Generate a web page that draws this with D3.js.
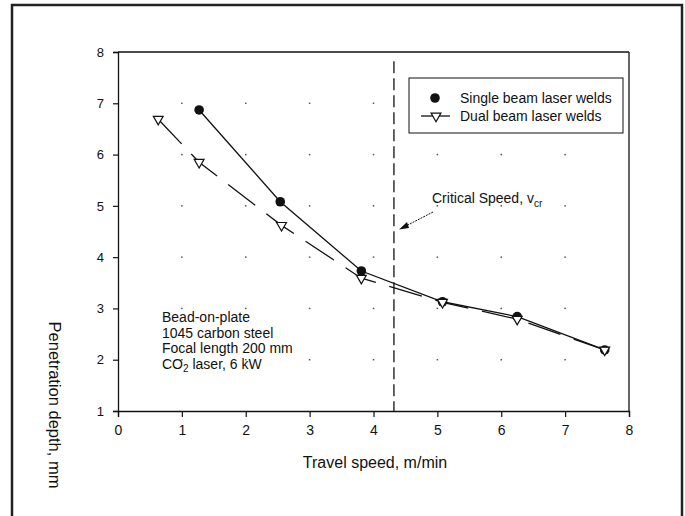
<!DOCTYPE html>
<html>
<head>
<meta charset="utf-8">
<script src="https://cdn.jsdelivr.net/npm/d3@7"></script>
<style>
  html, body { margin: 0; padding: 0; background: #fff; }
  svg { display: block; font-family: "Liberation Sans", Arial, sans-serif; }
</style>
</head>
<body>
<svg id="chart" width="685" height="516"></svg>
<script>
// ---- data ----
const singleSpeed = [1.27, 2.54, 3.81, 5.08, 6.25, 7.62];
const singleDepth = [6.87, 5.08, 3.73, 3.13, 2.84, 2.19];
const dualSpeed   = [0.63, 1.27, 2.56, 3.81, 5.08, 6.25, 7.62];
const dualDepth   = [6.69, 5.85, 4.62, 3.59, 3.12, 2.79, 2.19];
const xTicks = [0, 1, 2, 3, 4, 5, 6, 7, 8];
const yTicks = [1, 2, 3, 4, 5, 6, 7, 8];
const gridX = [1, 2, 3, 4, 5, 6, 7];
const gridY = [2, 3, 4, 5, 6, 7];
const criticalSpeed = 4.32;
const legendLabels = ["Single beam laser welds", "Dual beam laser welds"];
const noteLines = ["Bead-on-plate", "1045 carbon steel", "Focal length 200 mm"];

// ---- layout ----
const svg = d3.select("#chart");
const M = { left: 118, top: 52, right: 629, bottom: 411 };
const x = d3.scaleLinear().domain([0, 8]).range([M.left, M.right]);
const y = d3.scaleLinear().domain([1, 8]).range([M.bottom, M.top]);
const ink = "#111";

// outer frame
svg.append("rect").attr("x", 12).attr("y", 5).attr("width", 670).attr("height", 530)
  .attr("fill", "none").attr("stroke", "#222").attr("stroke-width", 2.5);

// faint grid dots
const dots = [];
gridX.forEach(gx => gridY.forEach(gy => dots.push([gx, gy])));
svg.append("g").selectAll("rect").data(dots).join("rect")
  .attr("x", d => x(d[0]) - 0.75).attr("y", d => y(d[1]) - 0.75)
  .attr("width", 1.5).attr("height", 1.5).attr("fill", "#555");

// axes
const xAxis = svg.append("g").attr("transform", `translate(0,${M.bottom})`)
  .call(d3.axisBottom(x).tickValues(xTicks).tickFormat(d3.format("d")).tickSize(6).tickPadding(8));
const yAxis = svg.append("g").attr("transform", `translate(${M.left},0)`)
  .call(d3.axisLeft(y).tickValues(yTicks).tickFormat(d3.format("d")).tickSize(5).tickPadding(9));
[xAxis, yAxis].forEach(g => {
  g.select(".domain").attr("stroke", ink).attr("stroke-width", 1.3);
  g.selectAll(".tick line").attr("stroke", ink).attr("stroke-width", 1.2);
  g.selectAll(".tick text").attr("fill", ink).style("font-family", "Liberation Sans, Arial, sans-serif");
});
xAxis.selectAll(".tick text").style("font-size", "14px");
yAxis.selectAll(".tick text").style("font-size", "13px");
// top and right frame lines
svg.append("line").attr("x1", x(0)).attr("x2", x(8)).attr("y1", y(8)).attr("y2", y(8))
  .attr("stroke", ink).attr("stroke-width", 1.3);
svg.append("line").attr("x1", x(8)).attr("x2", x(8)).attr("y1", y(8)).attr("y2", y(1))
  .attr("stroke", ink).attr("stroke-width", 1.3);

// critical speed line
svg.append("line").attr("x1", x(criticalSpeed)).attr("x2", x(criticalSpeed))
  .attr("y1", y(7.82)).attr("y2", y(1))
  .attr("stroke", ink).attr("stroke-width", 1.3).attr("stroke-dasharray", "12,5");

// series lines
const line = d3.line().x(d => x(d[0])).y(d => y(d[1]));
const single = singleSpeed.map((s, i) => [s, singleDepth[i]]);
const dual = dualSpeed.map((s, i) => [s, dualDepth[i]]);
svg.append("path").datum(dual).attr("d", line).attr("fill", "none")
  .attr("stroke", ink).attr("stroke-width", 1.3).attr("stroke-dasharray", "34,14");
svg.append("path").datum(single).attr("d", line).attr("fill", "none")
  .attr("stroke", ink).attr("stroke-width", 1.3);

// markers
svg.append("g").selectAll("circle").data(single).join("circle")
  .attr("cx", d => x(d[0])).attr("cy", d => y(d[1])).attr("r", 4.8).attr("fill", ink);
const tri = d3.symbol().type(d3.symbolTriangle).size(42);
svg.append("g").selectAll("path").data(dual).join("path")
  .attr("d", tri)
  .attr("transform", d => `translate(${x(d[0])},${y(d[1])}) rotate(180)`)
  .attr("fill", "#fff").attr("stroke", ink).attr("stroke-width", 1.2);

// legend
const lg = svg.append("g");
lg.append("rect").attr("x", 409).attr("y", 78).attr("width", 214).attr("height", 55)
  .attr("fill", "#fff").attr("stroke", ink).attr("stroke-width", 1);
lg.append("circle").attr("cx", 435).attr("cy", 98).attr("r", 4.8).attr("fill", ink);
lg.append("line").attr("x1", 421).attr("x2", 450).attr("y1", 116).attr("y2", 116)
  .attr("stroke", ink).attr("stroke-width", 1.3);
lg.append("path").attr("d", tri).attr("transform", "translate(436,116) rotate(180)")
  .attr("fill", "#fff").attr("stroke", ink).attr("stroke-width", 1.2);
lg.selectAll("text").data(legendLabels).join("text")
  .attr("x", 460).attr("y", (d, i) => 103 + i * 18)
  .attr("font-size", 14).attr("fill", ink).text(d => d);

// critical speed annotation
const ann = svg.append("text").attr("x", 432).attr("y", 203).attr("font-size", 14).attr("fill", ink);
ann.append("tspan").text("Critical Speed, v");
ann.append("tspan").attr("font-size", 10).attr("dy", 4).text("cr");
svg.append("line").attr("x1", 433).attr("y1", 212).attr("x2", 404).attr("y2", 227)
  .attr("stroke", ink).attr("stroke-width", 1).attr("stroke-dasharray", "2,1");
svg.append("path").attr("d", "M399,229.5 L407,222 L409,228 Z").attr("fill", ink);

// notes
const notes = svg.append("g").attr("font-size", 14).attr("fill", ink);
noteLines.forEach((t, i) => notes.append("text").attr("x", 162).attr("y", 322 + i * 15.5).text(t));
const co2 = notes.append("text").attr("x", 162).attr("y", 322 + 3 * 15.5);
co2.append("tspan").text("CO");
co2.append("tspan").attr("font-size", 10).attr("dy", 3).text("2");
co2.append("tspan").attr("dy", -3).text(" laser, 6 kW");

// axis titles
svg.append("text").attr("x", 375).attr("y", 468).attr("text-anchor", "middle")
  .attr("font-size", 16).attr("fill", ink).text("Travel speed, m/min");
svg.append("text").attr("transform", "translate(49,405) rotate(90)").attr("text-anchor", "middle")
  .attr("font-size", 16.5).attr("fill", ink).text("Penetration depth, mm");
</script>
</body>
</html>
